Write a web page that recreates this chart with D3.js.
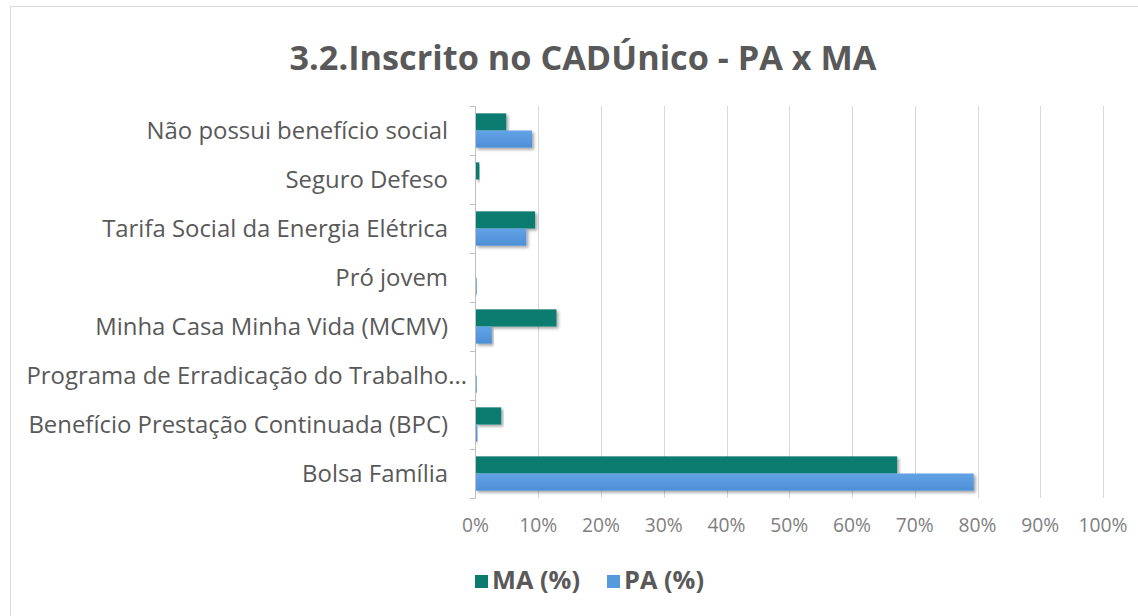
<!DOCTYPE html>
<html>
<head>
<meta charset="utf-8">
<script src="https://cdn.jsdelivr.net/npm/d3@7"></script>
<style>
  body { margin: 0; background: #fff; }
  svg { display: block; font-family: "Open Sans", "Liberation Sans", sans-serif; }
</style>
</head>
<body>
<div id="chart"></div>
<script>
// Data, bottom row first (same order as in the spreadsheet)
const categories = [
  "Bolsa Família",
  "Benefício Prestação Continuada (BPC)",
  "Programa de Erradicação do Trabalho...",
  "Minha Casa Minha Vida (MCMV)",
  "Pró jovem",
  "Tarifa Social da Energia Elétrica",
  "Seguro Defeso",
  "Não possui benefício social"
];
const seriesNames = ["MA (%)", "PA (%)"];
const maValues = [67.2, 4.1, 0, 12.9, 0, 9.5, 0.6, 4.9];
const paValues = [79.4, 0.3, 0.2, 2.6, 0.2, 8.1, 0, 9.0];
const xTicks = [0, 10, 20, 30, 40, 50, 60, 70, 80, 90, 100];

const width = 1138;
const height = 616;
const colors = { "MA (%)": "#0b7b6f", "PA (%)": "#5699dc" };
const textGrey = "#595959";

const rows = categories.map((c, i) => ({ cat: c, "MA (%)": maValues[i], "PA (%)": paValues[i] }));

const svg = d3.select("#chart").append("svg")
  .attr("width", width)
  .attr("height", height);

svg.append("rect").attr("width", width).attr("height", height).attr("fill", "#fff");

// chart area border
svg.append("rect")
  .attr("x", 10.5).attr("y", 6.5)
  .attr("width", width).attr("height", height)
  .attr("fill", "none").attr("stroke", "#d9d9d9");

const defs = svg.append("defs");
defs.append("filter").attr("id", "shadow")
  .attr("x", "-5%").attr("y", "-30%").attr("width", "115%").attr("height", "180%")
  .append("feDropShadow")
  .attr("dx", 2).attr("dy", 2).attr("stdDeviation", 1.5)
  .attr("flood-color", "#000").attr("flood-opacity", 0.35);
const grad = defs.append("linearGradient").attr("id", "paGrad")
  .attr("x1", 0).attr("y1", 0).attr("x2", 0).attr("y2", 1);
grad.append("stop").attr("offset", "0%").attr("stop-color", "#62a3e6");
grad.append("stop").attr("offset", "100%").attr("stop-color", "#4d8fd6");

// shrink/grow font so the text covers a target width
function fitWidth(sel, target) {
  const node = sel.node();
  const fs = parseFloat(sel.attr("font-size"));
  const w = node.getComputedTextLength();
  sel.attr("font-size", (fs * target / w).toFixed(2));
}

// Title
const title = svg.append("text")
  .attr("x", 583).attr("y", 70)
  .attr("text-anchor", "middle")
  .attr("font-size", 30)
  .attr("font-weight", "bold")
  .attr("fill", textGrey)
  .text("3.2.Inscrito no CADÚnico - PA x MA");
fitWidth(title, 587);

// Scales
const x = d3.scaleLinear().domain([0, 100]).range([475.5, 1103]);
const y0 = d3.scaleBand()
  .domain(categories.slice().reverse())
  .range([106, 498])
  .paddingInner(0.3)
  .paddingOuter(0.15);
const y1 = d3.scaleBand().domain(seriesNames).range([0, y0.bandwidth()]);

// Gridlines
svg.append("g")
  .selectAll("line")
  .data(xTicks.filter(t => t > 0))
  .join("line")
  .attr("x1", d => Math.round(x(d)) + 0.5)
  .attr("x2", d => Math.round(x(d)) + 0.5)
  .attr("y1", 106).attr("y2", 498)
  .attr("stroke", "#d9d9d9");

// X tick labels
const xLab = svg.append("g")
  .selectAll("text")
  .data(xTicks)
  .join("text")
  .attr("x", d => x(d))
  .attr("y", 532)
  .attr("text-anchor", "middle")
  .attr("font-size", 14)
  .attr("fill", "#7f7f7f")
  .text(d => d + "%");
const sample = xLab.filter(d => d === 100);
const fs100 = 14 * 49 / sample.node().getComputedTextLength();
xLab.attr("font-size", fs100.toFixed(2));

// Bars
const groups = svg.append("g")
  .selectAll("g")
  .data(rows)
  .join("g")
  .attr("transform", d => `translate(0,${y0(d.cat)})`);

groups.selectAll("rect")
  .data(d => seriesNames.map(s => ({ key: s, value: d[s] })))
  .join("rect")
  .attr("x", x(0))
  .attr("y", d => y1(d.key))
  .attr("width", d => x(d.value) - x(0))
  .attr("height", y1.bandwidth())
  .attr("fill", d => d.key === "PA (%)" ? "url(#paGrad)" : colors[d.key])
  .attr("filter", "url(#shadow)");

// Y axis line + boundary ticks
const step = y0.step();
const bounds = d3.range(categories.length + 1).map(i => 106 + i * step);
svg.append("line")
  .attr("x1", 475.5).attr("x2", 475.5)
  .attr("y1", 106).attr("y2", 498)
  .attr("stroke", "#bfbfbf");
svg.append("g")
  .selectAll("line")
  .data(bounds)
  .join("line")
  .attr("x1", 470).attr("x2", 475.5)
  .attr("y1", d => Math.round(d) + 0.5)
  .attr("y2", d => Math.round(d) + 0.5)
  .attr("stroke", "#bfbfbf");

// Category labels
const catLab = svg.append("g")
  .selectAll("text")
  .data(categories)
  .join("text")
  .attr("x", d => d.endsWith("...") ? 467 : 448)
  .attr("y", d => y0(d) + y0.bandwidth() / 2)
  .attr("dy", "0.35em")
  .attr("text-anchor", "end")
  .attr("font-size", 17)
  .attr("fill", textGrey)
  .text(d => d);
const ref = catLab.filter(d => d.startsWith("Tarifa"));
const catFs = 17 * 346 / ref.node().getComputedTextLength();
catLab.attr("font-size", catFs.toFixed(2));

// Legend
const legendX = [475, 607];
const legend = svg.append("g")
  .selectAll("g")
  .data(seriesNames)
  .join("g")
  .attr("transform", (d, i) => `translate(${legendX[i]},575)`);
legend.append("rect")
  .attr("width", 13).attr("height", 13)
  .attr("fill", d => d === "PA (%)" ? "#5699dc" : colors[d]);
const legText = legend.append("text")
  .attr("x", 17).attr("y", 14)
  .attr("font-size", 20)
  .attr("font-weight", "bold")
  .attr("fill", textGrey)
  .text(d => d);
const legFs = 20 * 88 / legText.node().getComputedTextLength();
legText.attr("font-size", legFs.toFixed(2));
</script>
</body>
</html>
